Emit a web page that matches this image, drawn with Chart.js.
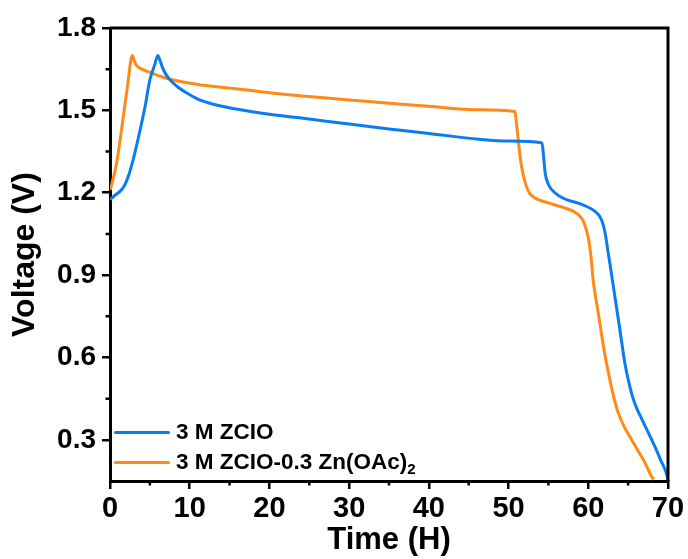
<!DOCTYPE html>
<html>
<head>
<meta charset="utf-8">
<script src="https://cdn.jsdelivr.net/npm/chart.js@4"></script>
<style>
  html, body { margin: 0; padding: 0; background: #fff; }
  #wrap { position: relative; width: 688px; height: 559px; }
  canvas { display: block; }
  #legend {
    position: absolute; left: 114px; top: 417px;
    font-family: "Liberation Sans", Arial, sans-serif; font-weight: bold; font-size: 22.5px; color: #000;
  }
  .row { display: flex; align-items: center; height: 30px; white-space: nowrap; }
  .swatch { width: 56px; height: 3px; margin-right: 6px; border-radius: 2px; }
  sub { font-size: 15px; vertical-align: -5px; line-height: 0; }
</style>
</head>
<body>
<div id="wrap">
  <canvas id="c" width="688" height="559"></canvas>
  <div id="legend"></div>
</div>
<script>
// Galvanostatic charge/discharge profiles
const seriesNames = ['3 M ZCIO', '3 M ZCIO-0.3 Zn(OAc)<sub>2</sub>'];
const seriesColors = ['#0a7cf2', '#ff8a16'];

// [time (H), voltage (V)]
const zcio = [
  [0,1.175],[0.2,1.18],[0.6,1.19],[1.25,1.205],[1.8,1.225],[2.3,1.26],[2.9,1.32],[3.5,1.393],
  [4.4,1.514],[5,1.611],[5.6,1.665],[6.0,1.70],[6.3,1.68],[6.6,1.655],[7.0,1.632],[7.5,1.612],
  [8.5,1.585],[10,1.557],[11.25,1.538],[13,1.522],[15.4,1.507],[20,1.486],[23.75,1.473],
  [30,1.450],[35,1.432],[40,1.416],[46.25,1.395],[50,1.388],[54.2,1.381],[54.4,1.33],
  [54.6,1.27],[55,1.23],[55.8,1.20],[57,1.178],[58.75,1.162],[60,1.147],[60.8,1.133],
  [61.4,1.115],[61.8,1.09],[62.1,1.055],[62.4,1.0],[62.7,0.944],[63.33,0.823],[63.96,0.702],
  [64.58,0.581],[65.0,0.52],[65.5,0.462],[66.0,0.42],[66.67,0.378],[67.5,0.328],
  [68.33,0.277],[69.1,0.225],[69.9,0.168],[70,0.152]
];
const zcioZnOAc = [
  [0,1.21],[0.2,1.229],[0.83,1.308],[1.67,1.477],[2.2,1.59],[2.8,1.70],[3.05,1.68],
  [3.3,1.665],[4,1.65],[4.8,1.641],[7.1,1.617],[9,1.604],[11.25,1.593],[14,1.584],[17.5,1.573],
  [20,1.564],[23.75,1.553],[30,1.538],[35,1.526],[40,1.515],[46.25,1.502],[50.8,1.496],
  [51,1.45],[51.25,1.381],[51.6,1.30],[52.1,1.235],[52.6,1.20],[53.3,1.181],[55,1.163],
  [57.1,1.144],[58.2,1.131],[58.9,1.116],[59.4,1.095],[59.8,1.06],[60.1,1.02],[60.4,0.95],
  [60.6,0.884],[61.25,0.763],[61.9,0.641],[62.7,0.52],[63.2,0.455],[63.75,0.399],
  [64.5,0.348],[65.4,0.302],[66.2,0.262],[67.1,0.217],[67.9,0.168],[68.2,0.155]
];

const xMajorTicks = [0, 10, 20, 30, 40, 50, 60, 70];
const xMinorTicks = [5, 15, 25, 35, 45, 55, 65];
const yMajorTicks = [0.3, 0.6, 0.9, 1.2, 1.5, 1.8];
const yMinorTicks = [0.45, 0.75, 1.05, 1.35, 1.65];

const FONT = '"Liberation Sans", Arial, sans-serif';

// frame on top/right plus short minor ticks
const framePlugin = {
  id: 'frame',
  afterDraw(chart) {
    const { ctx, chartArea: a, scales } = chart;
    ctx.save();
    ctx.strokeStyle = '#000';
    ctx.lineWidth = 3;
    ctx.beginPath();
    ctx.moveTo(a.left, a.top); ctx.lineTo(a.right, a.top); ctx.lineTo(a.right, a.bottom);
    ctx.stroke();
    ctx.lineWidth = 2.5;
    ctx.beginPath();
    xMinorTicks.forEach(v => {
      const px = scales.x.getPixelForValue(v);
      ctx.moveTo(px, a.bottom); ctx.lineTo(px, a.bottom + 4.5);
    });
    yMinorTicks.forEach(v => {
      const py = scales.y.getPixelForValue(v);
      ctx.moveTo(a.left, py); ctx.lineTo(a.left - 4.5, py);
    });
    ctx.stroke();
    ctx.restore();
  }
};

const toXY = arr => arr.map(([x, y]) => ({ x, y }));

new Chart(document.getElementById('c'), {
  type: 'line',
  data: {
    datasets: [
      { label: '3 M ZCIO', data: toXY(zcio), borderColor: seriesColors[0] },
      { label: '3 M ZCIO-0.3 Zn(OAc)2', data: toXY(zcioZnOAc), borderColor: seriesColors[1] }
    ].map(d => Object.assign(d, { borderWidth: 3, pointRadius: 0, fill: false, cubicInterpolationMode: 'monotone' }))
  },
  options: {
    responsive: false,
    animation: false,
    layout: { padding: { top: 28, right: 20, left: 0, bottom: 0 } },
    plugins: { legend: { display: false }, tooltip: { enabled: false } },
    scales: {
      x: {
        type: 'linear', min: 0, max: 70,
        afterBuildTicks: s => { s.ticks = xMajorTicks.map(v => ({ value: v })); },
        afterFit: s => { s.height = 78; },
        grid: { drawOnChartArea: false, drawTicks: true, tickLength: 8, lineWidth: 2.5, color: '#000' },
        border: { display: true, width: 3, color: '#000' },
        ticks: { color: '#000', font: { family: FONT, weight: 'bold', size: 29 }, padding: 3, maxRotation: 0 },
        title: { display: true, text: 'Time (H)', color: '#000', font: { family: FONT, weight: 'bold', size: 31 }, padding: { top: -9, bottom: 0 } }
      },
      y: {
        type: 'linear', min: 0.15, max: 1.8,
        afterBuildTicks: s => { s.ticks = yMajorTicks.map(v => ({ value: v })); },
        afterFit: s => { s.width = 110; },
        grid: { drawOnChartArea: false, drawTicks: true, tickLength: 8, lineWidth: 2.5, color: '#000' },
        border: { display: true, width: 3, color: '#000' },
        ticks: { color: '#000', font: { family: FONT, weight: 'bold', size: 28 }, padding: 6, callback: v => v.toFixed(1) },
        title: { display: true, text: 'Voltage (V)', color: '#000', font: { family: FONT, weight: 'bold', size: 32 }, padding: { top: 6, bottom: 0 } }
      }
    }
  },
  plugins: [framePlugin]
});

// legend with subscript
const legend = document.getElementById('legend');
seriesNames.forEach((name, i) => {
  const row = document.createElement('div');
  row.className = 'row';
  row.innerHTML = '<span class="swatch" style="background:' + seriesColors[i] + '"></span><span>' + name + '</span>';
  legend.appendChild(row);
});
</script>
</body>
</html>
